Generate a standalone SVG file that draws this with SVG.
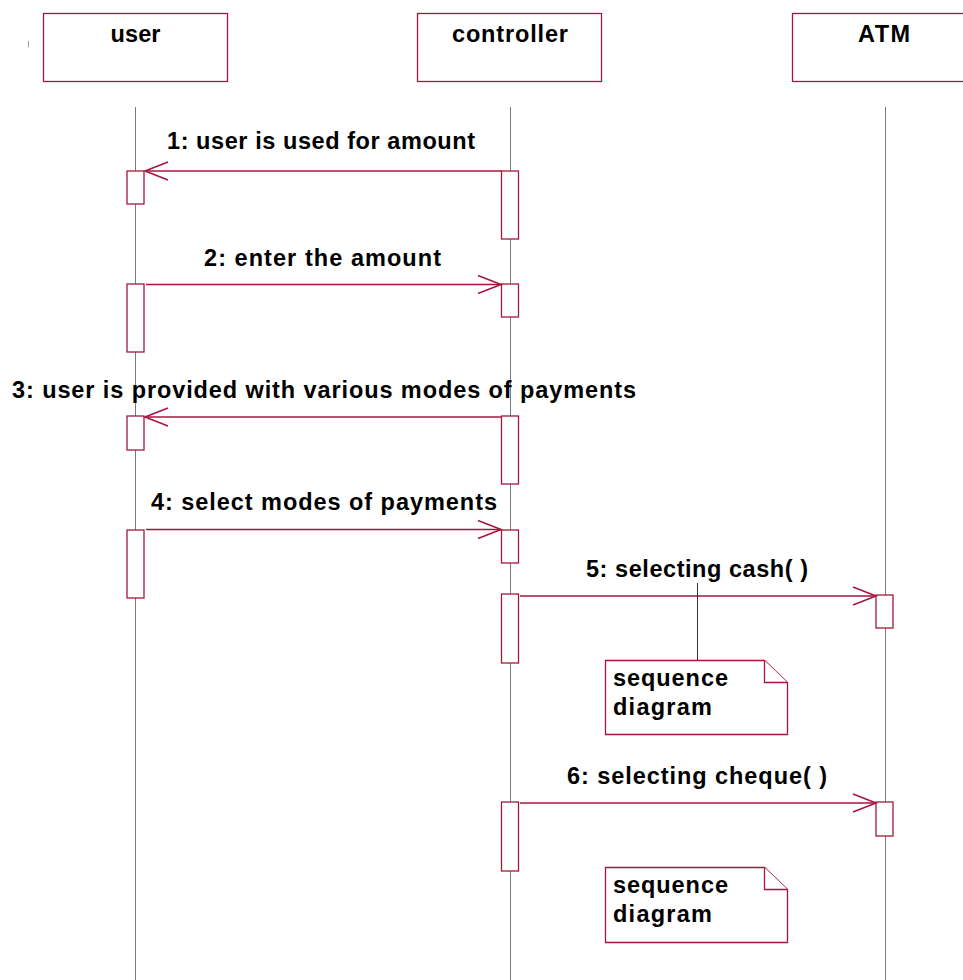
<svg xmlns="http://www.w3.org/2000/svg" width="963" height="980" viewBox="0 0 963 980">
  <style>
    .obj { fill: #ffffff; stroke: #a5173f; stroke-width: 1.3; }
    .act { fill: #ffffff; stroke: #a5173f; stroke-width: 1.3; }
    .life { stroke: #7a7a7a; stroke-width: 1; fill: none; }
    .msg { stroke: #a5173f; stroke-width: 1.3; fill: none; }
    .head { stroke: #a5173f; stroke-width: 1.6; fill: none; }
    .note { fill: #ffffff; stroke: #a5173f; stroke-width: 1.3; }
    .anchor { stroke: #333333; stroke-width: 1; fill: none; }
    text { font-family: "Liberation Sans", Arial, sans-serif; font-weight: bold; font-size: 23.5px; fill: #000000; }
    .c { text-anchor: middle; }
  </style>

  <rect width="963" height="980" fill="#ffffff"/>

  <!-- stray tick at left -->
  <line x1="28.5" y1="41" x2="28.5" y2="47.5" stroke="#9a9a9a" stroke-width="1"/>

  <!-- lifelines -->
  <g id="lifelines">
    <line class="life" x1="135.5" y1="107" x2="135.5" y2="980"/>
    <line class="life" x1="510.5" y1="107" x2="510.5" y2="980"/>
    <line class="life" x1="885.5" y1="107" x2="885.5" y2="980"/>
  </g>

  <!-- participants -->
  <g id="user">
    <rect class="obj" x="43.5" y="13.5" width="184" height="68"/>
    <text class="c" x="135.5" y="41.5" textLength="50" lengthAdjust="spacing">user</text>
  </g>
  <g id="controller">
    <rect class="obj" x="417.5" y="13.5" width="184" height="68"/>
    <text class="c" x="510" y="41.5" textLength="116" lengthAdjust="spacing">controller</text>
  </g>
  <g id="ATM">
    <rect class="obj" x="792.5" y="13.5" width="184" height="68"/>
    <text class="c" x="884" y="41.5" textLength="52" lengthAdjust="spacing">ATM</text>
  </g>

  <!-- activation bars -->
  <g id="activations">
    <rect class="act" x="127" y="171" width="17" height="33"/>
    <rect class="act" x="127" y="284" width="17" height="68"/>
    <rect class="act" x="127" y="416" width="17" height="34"/>
    <rect class="act" x="127" y="530" width="17" height="68"/>

    <rect class="act" x="501.5" y="171" width="17" height="68"/>
    <rect class="act" x="501.5" y="284" width="17" height="33"/>
    <rect class="act" x="501.5" y="416" width="17" height="68"/>
    <rect class="act" x="501.5" y="530" width="17" height="33"/>
    <rect class="act" x="501.5" y="594" width="17" height="69"/>
    <rect class="act" x="501.5" y="802" width="17" height="69"/>

    <rect class="act" x="876" y="595" width="17" height="33"/>
    <rect class="act" x="876" y="802" width="17" height="34"/>
  </g>

  <!-- messages -->
  <g id="connectors">
    <line class="msg" x1="501.5" y1="171" x2="145" y2="171"/>
    <polyline class="head" points="168,162 145,171 168,180"/>

    <line class="msg" x1="146" y1="284.5" x2="501" y2="284.5"/>
    <polyline class="head" points="478,275.5 501,284.5 478,293.5"/>

    <line class="msg" x1="501.5" y1="417" x2="145" y2="417"/>
    <polyline class="head" points="168,408 145,417 168,426"/>

    <line class="msg" x1="146" y1="529.5" x2="501" y2="529.5"/>
    <polyline class="head" points="478,520.5 501,529.5 478,538.5"/>

    <line class="msg" x1="520" y1="596" x2="876" y2="596"/>
    <polyline class="head" points="853,587 876,596 853,605"/>

    <line class="msg" x1="520" y1="803" x2="876" y2="803"/>
    <polyline class="head" points="853,794 876,803 853,812"/>

    <!-- note anchor -->
    <line class="anchor" x1="697.5" y1="583" x2="697.5" y2="660"/>
  </g>

  <!-- message labels -->
  <g id="labels">
    <text x="167" y="149" textLength="308" lengthAdjust="spacing">1: user is used for amount</text>
    <text x="204" y="266" textLength="237" lengthAdjust="spacing">2: enter the amount</text>
    <text x="12" y="398" textLength="624" lengthAdjust="spacing">3: user is provided with various modes of payments</text>
    <text x="151" y="510" textLength="346" lengthAdjust="spacing">4: select modes of payments</text>
    <text x="586" y="577" textLength="222" lengthAdjust="spacing">5: selecting cash( )</text>
    <text x="567" y="784" textLength="260" lengthAdjust="spacing">6: selecting cheque( )</text>
  </g>

  <!-- notes -->
  <g id="note1">
    <path class="note" d="M605.5,660.5 H764.5 L787.5,682.5 V734.5 H605.5 Z"/>
    <path class="note" d="M764.5,660.5 V682.5 H787.5"/>
    <text x="613" y="686" textLength="115" lengthAdjust="spacing">sequence</text>
    <text x="613" y="715" textLength="99" lengthAdjust="spacing">diagram</text>
  </g>
  <g id="note2">
    <path class="note" d="M605.5,867.5 H764.5 L787.5,889.5 V942.5 H605.5 Z"/>
    <path class="note" d="M764.5,867.5 V889.5 H787.5"/>
    <text x="613" y="893" textLength="115" lengthAdjust="spacing">sequence</text>
    <text x="613" y="922" textLength="99" lengthAdjust="spacing">diagram</text>
  </g>
</svg>
